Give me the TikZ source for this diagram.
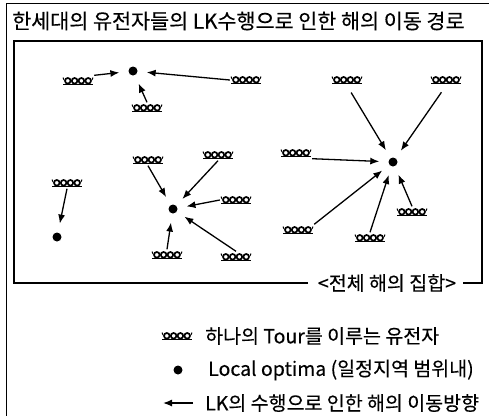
\documentclass[tikz,border=0pt]{standalone}
\usepackage{fontspec}
\setmainfont{Noto Sans CJK KR}[FakeBold=0.3]
\usetikzlibrary{arrows.meta}

\begin{document}
\begin{tikzpicture}[x=1pt,y=-1pt]
		\tikzstyle {frame line} = [line width=1.5pt]
		\tikzstyle {move} = [-{Latex[length=9pt,width=7pt]}, line width=1.3pt, shorten >=9pt]
		\tikzstyle {optimum} = [circle, fill, inner sep=0pt, minimum size=9pt]
		\tikzstyle {gene} = [inner sep=0pt, minimum width=32pt, minimum height=11pt,
			path picture={
				\foreach \k in {-1.5,-0.5,0.5,1.5}
					\draw[line width=1.7pt, shift={(path picture bounding box.center)}] (\k*6.8pt,0.2pt) circle (2.8pt);
				\draw[line width=1.1pt, shift={(path picture bounding box.center)}] (-15pt,-3.8pt) -- (15pt,-3.8pt);
				\draw[line width=1pt, shift={(path picture bounding box.center)}] (-15pt,3.5pt) -- (-14pt,1pt) (15pt,3.5pt) -- (14pt,1pt);
			}]
		\tikzstyle {note} = [font=\fontsize{19.5}{21}\selectfont, inner sep=0pt]

		\useasboundingbox (0,0) rectangle (489,416);

		\draw[line width=0.8pt] (489,3) -- (6,3) -- (6,416);
		\node[note, anchor=west, font=\fontsize{20.7}{22}\selectfont] (title) at (12,21) {한세대의 유전자들의 LK수행으로 인한 해의 이동 경로};

		\draw[frame line] (308,283) -- (14,283) -- (14,41) -- (482,41) -- (482,283) -- (463,283);
		\node[note] (space) at (387,283) {<전체 해의 집합>};

		\node[optimum] (dotA) at (133,71) {};
		\node[gene] (gA1) at (78,81) {};
		\node[gene] (gA2) at (246,80) {};
		\node[gene] (gA3) at (147,108) {};
		\draw[move] (gA1.north east) -- (dotA);
		\draw[move] (gA2.west) -- (dotA);
		\draw[move] (gA3.north) -- (dotA);

		\node[optimum] (dotB) at (173,209) {};
		\node[gene] (gB1) at (148,160) {};
		\node[gene] (gB2) at (218,155) {};
		\node[gene] (gB3) at (236,200) {};
		\node[gene] (gB4) at (236,257) {};
		\node[gene] (gB5) at (167,255) {};
		\draw[move] (gB1.south) -- (dotB);
		\draw[move] (gB2.south) -- (dotB);
		\draw[move] (gB3.west) -- (dotB);
		\draw[move] (gB4.north) -- (dotB);
		\draw[move] (gB5.north) -- (dotB);

		\node[optimum] (dotC) at (393,162) {};
		\node[gene] (gC1) at (347,80) {};
		\node[gene] (gC2) at (446,80) {};
		\node[gene] (gC3) at (296,153) {};
		\node[gene] (gC4) at (298,230) {};
		\node[gene] (gC5) at (370,238) {};
		\node[gene] (gC6) at (412,212) {};
		\draw[move, shorten <=8pt] (gC1.south) -- (dotC);
		\draw[move, shorten <=8pt] (gC2.south) -- (dotC);
		\draw[move] (gC3.south east) -- (dotC);
		\draw[move] (gC4.north east) -- (dotC);
		\draw[move] (gC5.north) -- (dotC);
		\draw[move] (gC6.north) -- (dotC);

		\node[optimum] (dotD) at (57,237) {};
		\node[gene] (gD) at (67,183) {};
		\draw[move] (gD.south) -- (dotD);

		\node[gene] (gL) at (177,336) {};
		\node[note, anchor=west] (geneText) at (205,336) {하나의 Tour를 이루는 유전자};
		\node[optimum] (dotL) at (178,370) {};
		\node[note, anchor=west] (dotText) at (208,370) {Local optima (일정지역 범위내)};
		\coordinate (arrowStart) at (193,403);
		\coordinate (arrowEnd) at (163,403);
		\draw[move, shorten >=0pt] (arrowStart) -- (arrowEnd);
		\node[note, anchor=west] (arrowText) at (205,403) {LK의 수행으로 인한 해의 이동방향};
	\end{tikzpicture}
\end{document}
